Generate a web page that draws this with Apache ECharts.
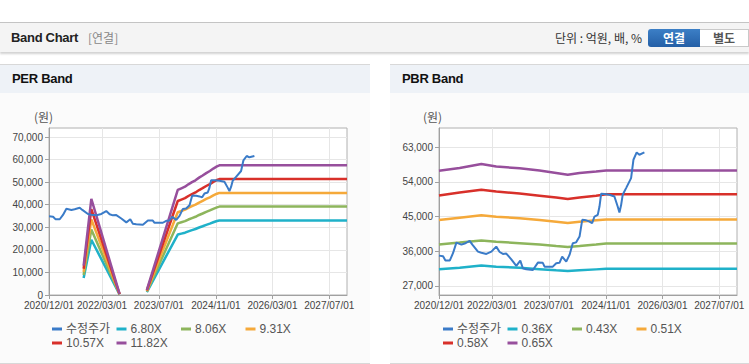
<!DOCTYPE html>
<html>
<head>
<meta charset="utf-8">
<script src="https://cdn.jsdelivr.net/npm/echarts@6/dist/echarts.min.js"></script>
<style>
html,body{margin:0;padding:0;background:#fff;}
body{width:749px;height:364px;position:relative;overflow:hidden;font-family:"Liberation Sans","Noto Sans CJK KR",sans-serif;}
.hdr{position:absolute;left:0;top:22px;width:749px;height:29px;background:#f4f4f4;border-top:1px solid #c4c4c4;box-shadow:0 2px 2px rgba(0,0,0,0.18);}
.hdr .t{position:absolute;left:11px;top:7px;font-size:13px;font-weight:bold;color:#222;letter-spacing:-0.3px;}
.hdr .s{position:absolute;left:88px;top:8px;font-size:12px;color:#888;font-family:"Noto Sans CJK KR",sans-serif;line-height:14px;}
.hdr .u{position:absolute;right:107px;top:7px;font-size:12px;color:#333;font-family:"Noto Sans CJK KR",sans-serif;line-height:15px;}
.btn1{position:absolute;left:648px;top:6px;width:52px;height:18px;background:linear-gradient(#3c7fc6,#245fa6);border-radius:3px 0 0 3px;color:#fff;font-weight:bold;font-size:12px;text-align:center;line-height:18px;font-family:"Noto Sans CJK KR",sans-serif;}
.btn2{position:absolute;left:700px;top:6px;width:48px;height:16px;background:#fff;border:1px solid #c9c9c9;border-left:none;color:#555;font-weight:bold;font-size:12px;text-align:center;line-height:16px;font-family:"Noto Sans CJK KR",sans-serif;}
.pnl{position:absolute;top:64px;height:298px;background:#fbfbfb;border-top:1px solid #d8d8d8;border-bottom:1px solid #d8d8d8;}
.pnl .tt{height:28px;background:#eef2f7;font-size:13px;font-weight:bold;color:#111;padding-left:12px;line-height:28px;letter-spacing:-0.3px;}
#chart{position:absolute;left:0;top:0;width:749px;height:364px;}
</style>
</head>
<body>
<div class="hdr"><span class="t">Band Chart</span><span class="s">[연결]</span><span class="u">단위 : 억원, 배, %</span><div class="btn1">연결</div><div class="btn2">별도</div></div>
<div class="pnl" style="left:0;width:370px;"><div class="tt">PER Band</div></div>
<div class="pnl" style="left:390px;width:359px;"><div class="tt">PBR Band</div></div>
<div id="chart"></div>
<script>
// ---- data ----
const priceDates = ['2020-12-01','2021-01-05','2021-01-25','2021-03-03','2021-03-31','2021-04-29','2021-06-11','2021-07-09','2021-08-21','2021-09-13','2021-10-31','2021-11-29','2022-01-11','2022-02-23','2022-04-06','2022-05-05','2022-06-02','2022-07-01','2022-08-13','2022-09-25','2022-10-29','2022-11-20','2022-12-19','2023-02-14','2023-03-29','2023-05-10','2023-05-25','2023-08-04','2023-09-02','2023-09-30','2023-10-23','2023-11-27','2023-12-25','2024-01-22','2024-02-20','2024-03-20','2024-04-12','2024-05-16','2024-06-13','2024-07-06','2024-07-26','2024-08-23','2024-09-07','2024-09-21','2024-10-20','2024-12-01','2025-01-13','2025-02-10','2025-02-25','2025-03-11','2025-03-25','2025-04-23','2025-06-05','2025-06-25','2025-07-23','2025-08-15','2025-09-27'];
const priceValues = [34860,34700,33600,33570,35490,38240,37700,38000,38680,37700,35900,35600,35300,35900,37200,35800,35300,35400,33900,32190,33570,31600,31330,31150,33050,33000,32010,32010,32890,33000,34600,33300,35050,38080,38300,39800,44130,44000,43690,43270,44990,45430,47580,50880,50800,50620,50180,47580,46020,47900,50620,52360,54950,59700,61600,61000,61600];

const perBandDates = ['2021-09-24','2021-11-29','2022-07-29','2022-11-01','2023-03-20','2023-12-10','2024-01-10','2024-02-10','2024-03-10','2024-04-10','2024-05-10','2024-06-10','2024-07-10','2024-08-10','2024-09-10','2024-10-10','2024-11-10','2024-12-01','2027-11-30'];
const per680  = [7480,24480,270,null,1290,26790,27200,27610,28220,28760,29240,29920,30460,31080,31620,32230,32780,33050,33050];
const per806  = [8870,29020,320,null,1530,31760,32240,32720,33450,34090,34660,35460,36110,36830,37480,38200,38850,39170,39170];
const per931  = [10240,33520,370,null,1770,36680,37240,37800,38640,39380,40030,40960,41710,42550,43290,44130,44870,45250,45250];
const per1057 = [11630,38050,420,null,2010,41650,42280,42910,43870,44710,45450,46510,47350,48300,49150,50100,50950,51370,51370];
const per1182 = [13000,42550,470,null,2250,46570,47280,47990,49050,50000,50830,52010,52950,54020,54960,56030,56970,57450,57450];

const pbrBandDates = ['2020-12-01','2021-05-27','2021-11-29','2022-04-06','2022-10-23','2023-04-12','2023-09-02','2023-12-10','2024-03-20','2024-08-09','2024-11-03','2027-11-30'];
const pbr036 = [31330,31750,32300,32000,31700,31350,31050,30850,31050,31300,31450,31450];
const pbr043 = [37750,38250,38800,38450,38100,37750,37350,37100,37350,37750,38000,38000];
const pbr051 = [44100,44700,45300,44950,44550,44100,43650,43300,43650,44050,44250,44250];
const pbr058 = [50450,51200,51950,51450,50950,50400,49900,49550,49900,50400,50750,50750];
const pbr065 = [56850,57550,58600,57950,57500,56900,56250,55800,56250,56650,56900,56900];

const perNames = ['6.80X','8.06X','9.31X','10.57X','11.82X'];
const pbrNames = ['0.36X','0.43X','0.51X','0.58X','0.65X'];
const priceName = '수정주가';
const xTickLabels = ['2020/12/01','2022/03/01','2023/07/01','2024/11/01','2026/03/01','2027/07/01'];
const perYTicks = [0,10000,20000,30000,40000,50000,60000,70000];
const pbrYTicks = [27000,36000,45000,54000,63000];
const xStart = '2020-12-01', xEnd = '2027-11-30';
const perYRange = [0, 74000];
const pbrYRange = [24660, 67930];

// ---- helpers ----
function ts(s){ const p = s.split(/[-\/]/).map(Number); return new Date(p[0], p[1]-1, p[2]).getTime(); }
function pairs(dates, vals){ return dates.map((d,i)=>[ts(d), vals[i]==null ? '-' : vals[i]]); }
function fmtDate(v){ const d = new Date(v); const m = d.getMonth()+1, dd = d.getDate(); return d.getFullYear()+'/'+(m<10?'0':'')+m+'/'+(dd<10?'0':'')+dd; }
function fmtNum(v){ return String(v).replace(/\B(?=(\d{3})+(?!\d))/g, ','); }

const colors = ['#1fb1c9','#8db55c','#f5a93a','#d8302a','#974f9c'];
const priceColor = '#3a7bc8';
const txt = {color:'#444', fontSize:10, fontFamily:'Liberation Sans, Arial, sans-serif'};

function xAxis(gi){
  return {type:'value', gridIndex:gi, min:ts(xStart), max:ts(xEnd),
    axisLine:{lineStyle:{color:'#a0a0a0'}},
    axisTick:{show:true, length:4, customValues:xTickLabels.map(ts), lineStyle:{color:'#a0a0a0'}},
    axisLabel:Object.assign({customValues:xTickLabels.map(ts), formatter:fmtDate, margin:5, hideOverlap:false}, txt),
    splitLine:{show:true, lineStyle:{color:'#e6e6e6'}}};
}
function yAxis(gi, range, ticks){
  return {type:'value', gridIndex:gi, min:range[0], max:range[1],
    axisLine:{show:true, lineStyle:{color:'#a0a0a0'}},
    axisTick:{show:true, length:4, customValues:ticks, lineStyle:{color:'#a0a0a0'}},
    axisLabel:Object.assign({customValues:ticks, formatter:fmtNum, margin:6}, txt),
    splitLine:{show:true, lineStyle:{color:'#e6e6e6'}}};
}

const series = [];
const perVals = [per680, per806, per931, per1057, per1182];
const pbrVals = [pbr036, pbr043, pbr051, pbr058, pbr065];
perNames.forEach((n,i)=>series.push({name:n, type:'line', xAxisIndex:0, yAxisIndex:0, data:pairs(perBandDates, perVals[i]), showSymbol:false, connectNulls:false, lineStyle:{width:2.5, color:colors[i]}, itemStyle:{color:colors[i]}, z:2}));
series.push({name:priceName, type:'line', xAxisIndex:0, yAxisIndex:0, data:pairs(priceDates, priceValues), showSymbol:false, lineStyle:{width:2, color:priceColor}, itemStyle:{color:priceColor}, z:3});
pbrNames.forEach((n,i)=>series.push({name:n, type:'line', xAxisIndex:1, yAxisIndex:1, data:pairs(pbrBandDates, pbrVals[i]), showSymbol:false, lineStyle:{width:2.5, color:colors[i]}, itemStyle:{color:colors[i]}, z:2}));
series.push({name:priceName, type:'line', xAxisIndex:1, yAxisIndex:1, data:pairs(priceDates, priceValues), showSymbol:false, lineStyle:{width:2, color:priceColor}, itemStyle:{color:priceColor}, z:3});

// legends: fixed columns
function legendItem(name, left, top){
  return {data:[name], left:left, top:top, padding:0, icon:'rect', itemWidth:10, itemHeight:3, itemGap:0, selectedMode:false,
    textStyle:{color:'#555', fontSize:12, fontFamily:'Liberation Sans, Noto Sans CJK KR, sans-serif', padding:[0,0,0,-1]}};
}
const perLegendOrder = [priceName].concat(perNames);
const pbrLegendOrder = [priceName].concat(pbrNames);
const legends = [];
perLegendOrder.forEach((n,i)=>legends.push(legendItem(n, 52 + (i%4)*64.5, 323 + Math.floor(i/4)*14)));
pbrLegendOrder.forEach((n,i)=>legends.push(legendItem(n, 443 + (i%4)*64.5, 323 + Math.floor(i/4)*14)));

const chart = echarts.init(document.getElementById('chart'), null, {renderer:'svg'});
chart.setOption({
  animation:false,
  grid:[
    {left:49, top:128, width:298, height:167, show:true, borderColor:'#b0b0b0', borderWidth:1, backgroundColor:'#fff', containLabel:false},
    {left:439, top:128, width:298, height:167, show:true, borderColor:'#b0b0b0', borderWidth:1, backgroundColor:'#fff', containLabel:false}
  ],
  xAxis:[xAxis(0), xAxis(1)],
  yAxis:[yAxis(0, perYRange, perYTicks), yAxis(1, pbrYRange, pbrYTicks)],
  legend:legends,
  graphic:[
    {type:'text', left:34, top:110, style:{text:'(원)', fill:'#555', font:'12px "Noto Sans CJK KR", sans-serif'}},
    {type:'text', left:423, top:110, style:{text:'(원)', fill:'#555', font:'12px "Noto Sans CJK KR", sans-serif'}}
  ],
  series:series
});
</script>
</body>
</html>
